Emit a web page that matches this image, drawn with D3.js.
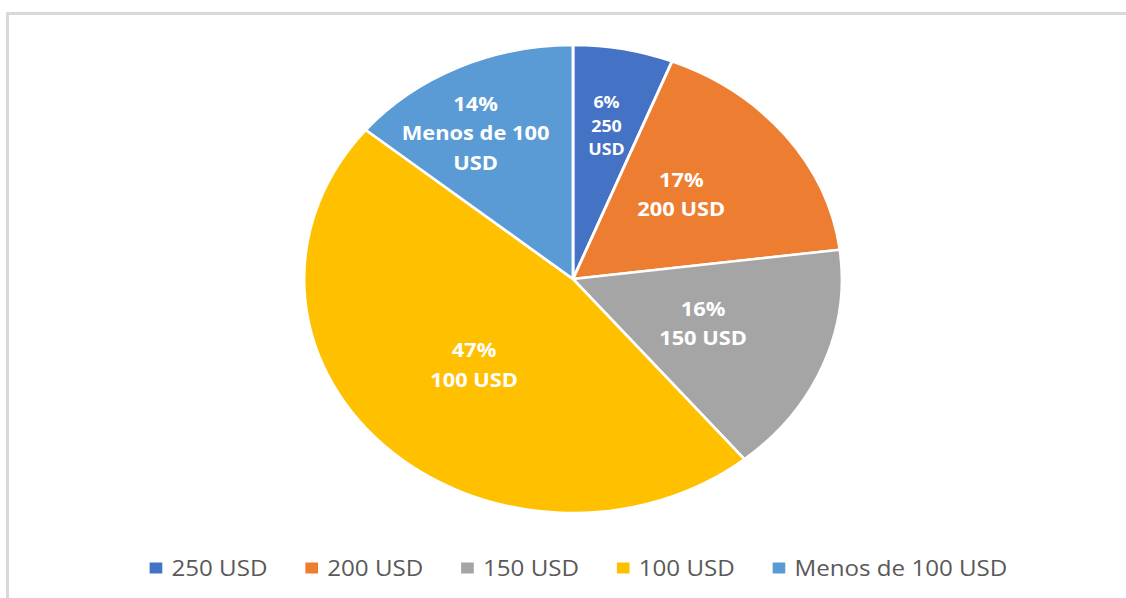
<!DOCTYPE html>
<html>
<head>
<meta charset="utf-8">
<script src="https://cdn.jsdelivr.net/npm/d3@7/dist/d3.min.js"></script>
<style>
  body { margin: 0; background: #fff; }
  svg { display: block; }
</style>
</head>
<body>
<div id="chart"></div>
<script>
// data
const categories = ["250 USD", "200 USD", "150 USD", "100 USD", "Menos de 100 USD"];
const shares = [6, 17, 16, 47, 14];
const colors = ["#4472C4", "#ED7D31", "#A5A5A5", "#FFC000", "#5B9BD5"];

const W = 1126, H = 598;
// the original picture is stretched sideways, so draw in a squeezed space
const sx = 269 / 234;
const cx = 573 / sx, cy = 279, radius = 234;

const svg = d3.select("#chart").append("svg")
    .attr("width", W)
    .attr("height", H);

// frame (only left and top edges are visible)
svg.append("path")
    .attr("d", "M7.5," + H + "V13.5H" + W)
    .attr("fill", "none")
    .attr("stroke", "#d9d9d9")
    .attr("stroke-width", 3);

const g = svg.append("g").attr("transform", "scale(" + sx + ",1)");

const pie = d3.pie().sort(null).value(d => d.value);
const arc = d3.arc().innerRadius(0).outerRadius(radius);

const data = categories.map((c, i) => ({ name: c, value: shares[i], color: colors[i] }));
const arcs = pie(data);

const pieG = g.append("g").attr("transform", "translate(" + cx + "," + cy + ")");

pieG.selectAll("path.slice")
    .data(arcs)
    .enter().append("path")
    .attr("class", "slice")
    .attr("d", arc)
    .attr("fill", d => d.data.color)
    .attr("stroke", "#fff")
    .attr("stroke-width", 2.5)
    .attr("stroke-linejoin", "round");

// label placement: small slices push their label outward
function labelSpot(d) {
    let mid = (d.startAngle + d.endAngle) / 2;
    let r = 0.52;
    if (d.data.value < 10) r = 0.665;
    else if (d.data.name.length > 10) { r = 0.72; mid -= 5 * Math.PI / 180; }
    else if (d.index === 1) { r = 0.54; mid -= 4 * Math.PI / 180; }
    return [Math.sin(mid) * radius * r, -Math.cos(mid) * radius * r];
}

function wrapWidth(d) {
    if (d.data.value < 10) return 40;
    if (d.data.name.length > 10) return 130;
    return 1000;
}

const labels = pieG.selectAll("g.label")
    .data(arcs)
    .enter().append("g")
    .attr("class", "label")
    .attr("transform", d => "translate(" + labelSpot(d) + ")");

labels.each(function(d) {
    const el = d3.select(this);
    const small = d.data.value < 10;
    const fs = small ? 15.5 : 19;
    const lh = small ? 23.5 : 29.5;
    const txt = el.append("text")
        .attr("text-anchor", "middle")
        .attr("fill", "#fff")
        .attr("font-family", "'Open Sans', 'Noto Sans', sans-serif")
        .attr("font-weight", "bold")
        .attr("font-size", fs);

    // word wrap of the category name
    const words = d.data.name.split(" ");
    const lines = [d.data.value + "%"];
    let cur = "";
    const probe = txt.append("tspan");
    words.forEach(w => {
        const test = cur ? cur + " " + w : w;
        probe.text(test);
        if (probe.node().getComputedTextLength() > wrapWidth(d) && cur) {
            lines.push(cur);
            cur = w;
        } else {
            cur = test;
        }
    });
    lines.push(cur);
    probe.remove();

    const y0 = -(lines.length - 1) * lh / 2;
    lines.forEach((ln, i) => {
        txt.append("tspan")
            .attr("x", 0)
            .attr("y", y0 + i * lh)
            .attr("dy", "0.36em")
            .text(ln);
    });
});

// legend along the bottom
const legend = g.append("g").attr("class", "legend");
const legendY = 568;
const box = 11, boxGap = 8, itemGap = 33;

const items = legend.selectAll("g.item")
    .data(data)
    .enter().append("g")
    .attr("class", "item");

items.append("rect")
    .attr("width", box)
    .attr("height", box)
    .attr("y", legendY - box / 2)
    .attr("fill", d => d.color);

items.append("text")
    .attr("x", box + boxGap)
    .attr("y", legendY)
    .attr("dy", "0.36em")
    .attr("fill", "#595959")
    .attr("font-family", "'Open Sans', 'Noto Sans', sans-serif")
    .attr("font-size", 21)
    .text(d => d.name);

let widths = [];
items.each(function() {
    widths.push(box + boxGap + d3.select(this).select("text").node().getComputedTextLength());
});
const total = d3.sum(widths) + itemGap * (widths.length - 1);
let xPos = 578.5 / sx - total / 2;
items.attr("transform", (d, i) => {
    const t = "translate(" + xPos + ",0)";
    xPos += widths[i] + itemGap;
    return t;
});
</script>
</body>
</html>
